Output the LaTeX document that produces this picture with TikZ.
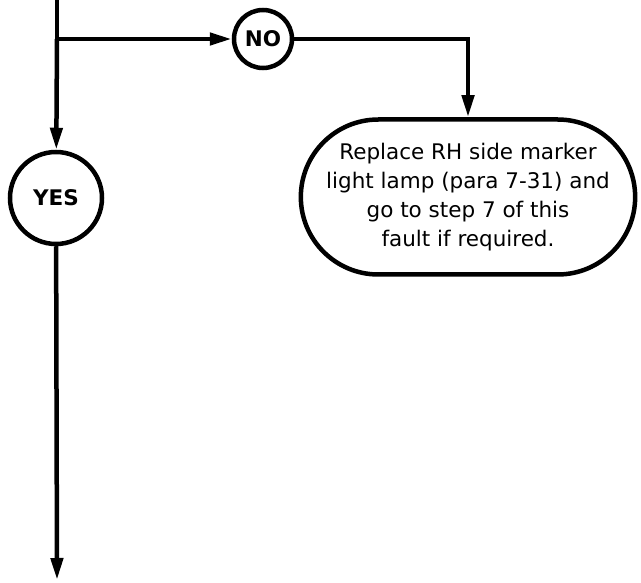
\documentclass[tikz,border=0pt]{standalone}
\usepackage{fontspec}
\setmainfont{DejaVu Sans}
\usetikzlibrary{arrows.meta,positioning,shapes.misc}

\begin{document}
\begin{tikzpicture}[x=1pt,y=1pt,
  flow/.style={line width=4.5pt,-{Triangle[length=22pt,width=12pt]}},
  answer/.style={circle,draw,line width=4.5pt,inner sep=0pt,font=\bfseries\fontsize{21.5}{25}\selectfont},
  action/.style={rounded rectangle,draw,line width=4.5pt,minimum width=341pt,minimum height=155pt,align=center,font=\fontsize{21.5}{29}\selectfont}]
\useasboundingbox (0,0) rectangle (641,582);
\coordinate (top) at (57,582);
\coordinate (split) at (57,543);
\node[answer,minimum size=58pt] (no) at (263,543) {NO};
\node[answer,minimum size=92pt] (yes) at (56,384) {YES};
\node[action] (fix) at (468,385) {Replace RH side marker\\light lamp (para 7-31) and\\go to step 7 of this\\fault if required.};
\coordinate (end) at (57,2);
\draw[line width=4.5pt] (top) -- (split);
\draw[flow] (split) -- (no);
\draw[flow] (split) -- (yes);
\draw[flow] (no) -| (fix);
\draw[flow] (yes) -- (end);
\end{tikzpicture}
\end{document}
